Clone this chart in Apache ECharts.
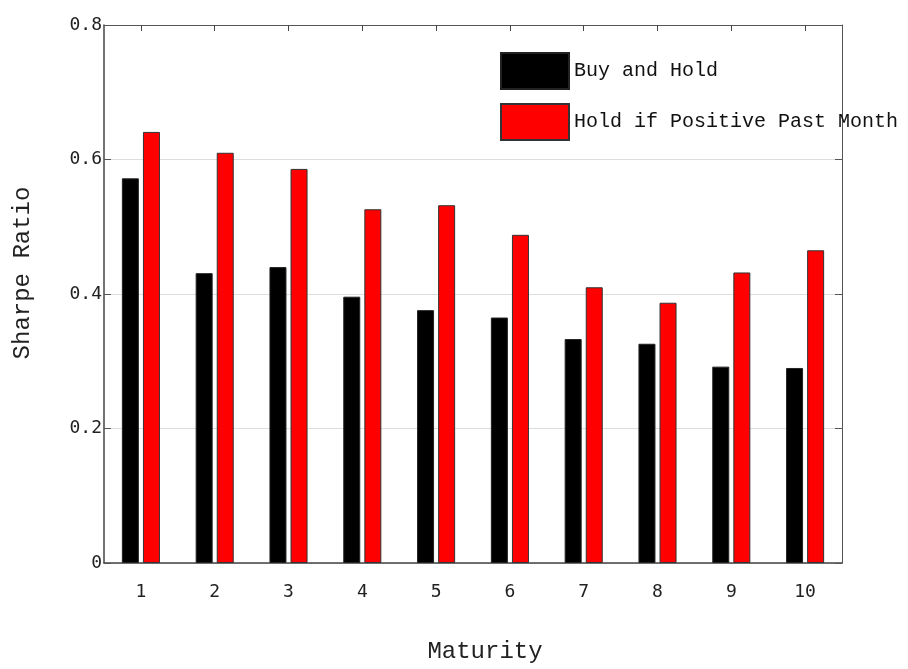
<!DOCTYPE html>
<html>
<head>
<meta charset="utf-8">
<script src="https://cdn.jsdelivr.net/npm/echarts@6/dist/echarts.min.js"></script>
<style>html,body{margin:0;padding:0;background:#fff}#c{width:908px;height:669px}</style>
</head>
<body>
<div id="c"></div>
<script>
var categories = ['1','2','3','4','5','6','7','8','9','10'];
var buyAndHold = [0.572, 0.431, 0.440, 0.396, 0.376, 0.365, 0.333, 0.326, 0.292, 0.290];
var holdIfPositive = [0.641, 0.610, 0.586, 0.526, 0.532, 0.488, 0.410, 0.387, 0.432, 0.465];
var yTicks = {min: 0, max: 0.8, interval: 0.2};
var seriesNames = ['Buy and Hold', 'Hold if Positive Past Month'];
var xName = 'Maturity';
var yName = 'Sharpe Ratio';

var chart = echarts.init(document.getElementById('c'), null, {renderer: 'canvas'});
var mono = 'DejaVu Sans Mono';
var courier = 'Liberation Mono';
chart.setOption({
  animation: false,
  backgroundColor: '#fff',
  grid: {left: 104, right: 66, top: 25, bottom: 106, containLabel: false},
  legend: {
    orient: 'vertical', left: 500, top: 52, padding: 0, itemWidth: 68, itemHeight: 36, itemGap: 13,
    icon: 'rect',
    textStyle: {fontFamily: courier, fontSize: 20, color: '#111'},
    data: seriesNames
  },
  xAxis: [{
    type: 'category', data: categories, position: 'bottom',
    axisLine: {onZero: false, lineStyle: {color: '#444', width: 1.5}},
    axisTick: {inside: true, alignWithLabel: true, length: 6, lineStyle: {color: '#888', width: 2}},
    axisLabel: {fontFamily: mono, fontSize: 18, color: '#222', margin: 20}
  }, {
    type: 'category', data: categories, position: 'top',
    axisLine: {onZero: false, lineStyle: {color: '#555', width: 1}},
    axisTick: {show: true, inside: true, alignWithLabel: true, length: 6, lineStyle: {color: '#444', width: 1}},
    axisLabel: {show: false}
  }],
  yAxis: [{
    type: 'value', min: yTicks.min, max: yTicks.max, interval: yTicks.interval, position: 'left',
    axisLine: {show: true, onZero: false, lineStyle: {color: '#444', width: 1.5}},
    axisTick: {show: true, inside: true, length: 7, lineStyle: {color: '#555'}},
    splitLine: {show: true, lineStyle: {color: '#ddd', width: 1}},
    axisLabel: {fontFamily: mono, fontSize: 18, color: '#222', margin: 2, padding: [0, 0, 6, 0]}
  }, {
    type: 'value', min: yTicks.min, max: yTicks.max, interval: yTicks.interval, position: 'right',
    axisLine: {show: true, onZero: false, lineStyle: {color: '#555', width: 1}},
    axisTick: {show: true, inside: true, length: 7, lineStyle: {color: '#555'}},
    splitLine: {show: false},
    axisLabel: {show: false}
  }],
  series: [{
    name: seriesNames[0], type: 'bar', data: buyAndHold, barWidth: 17, barGap: '24%',
    itemStyle: {color: '#000', borderColor: '#222', borderWidth: 1}
  }, {
    name: seriesNames[1], type: 'bar', data: holdIfPositive, barWidth: 17, barGap: '24%',
    itemStyle: {color: '#ff0000', borderColor: '#333', borderWidth: 1}
  }],
  graphic: [{
    type: 'text', x: 485, y: 652,
    style: {text: xName, fontFamily: courier, fontSize: 24, fill: '#222', align: 'center', verticalAlign: 'middle'}
  }, {
    type: 'text', rotation: Math.PI / 2, x: 23, y: 273,
    style: {text: yName, fontFamily: courier, fontSize: 24, fill: '#222', align: 'center', verticalAlign: 'middle'}
  }]
});
</script>
</body>
</html>
